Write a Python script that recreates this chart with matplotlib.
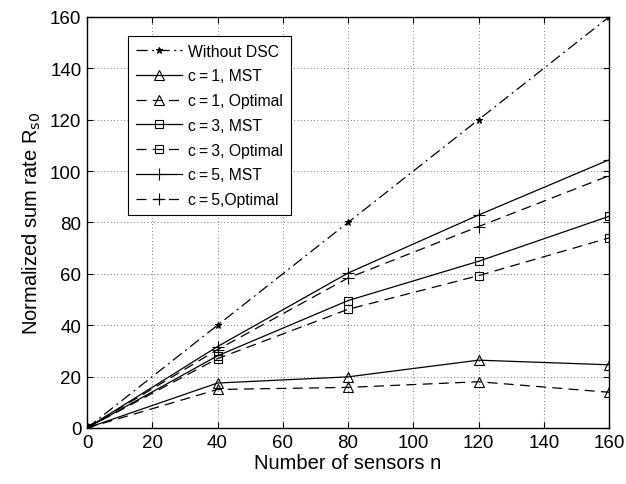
import matplotlib
matplotlib.use("Agg")
import matplotlib.pyplot as plt

plt.rcParams['font.family'] = ['Liberation Sans', 'DejaVu Sans']

n = [0, 40, 80, 120, 160]
without_dsc = [0, 40, 80, 120, 160]
c1_mst = [0, 17.5, 19.9, 26.4, 24.6]
c1_opt = [0, 15.0, 15.8, 18.0, 13.9]
c3_mst = [0, 28.1, 49.6, 64.9, 82.4]
c3_opt = [0, 27.0, 46.2, 59.3, 74.0]
c5_mst = [0, 31.7, 60.3, 82.9, 104.4]
c5_opt = [0, 30.5, 58.4, 78.4, 98.2]

ts = "\u2009"
series = [
    ("Without DSC", without_dsc, (0, (9, 3.5, 1.5, 3.5)), "*"),
    (f"c{ts}={ts}1, MST", c1_mst, "-", "^"),
    (f"c{ts}={ts}1, Optimal", c1_opt, (0, (8, 5)), "^"),
    (f"c{ts}={ts}3, MST", c3_mst, "-", "s"),
    (f"c{ts}={ts}3, Optimal", c3_opt, (0, (8, 5)), "s"),
    (f"c{ts}={ts}5, MST", c5_mst, "-", "+"),
    (f"c{ts}={ts}5,Optimal", c5_opt, (0, (8, 5)), "+"),
]

fig = plt.figure(figsize=(6.26, 4.85), dpi=100)
ax = fig.add_axes([0.139, 0.1155, 0.834, 0.8475])

sizes = {"^": 7, "s": 5.5, "+": 8, "*": 5}
for label, ys, ls, mk in series:
    ax.plot(n, ys, color="black", linestyle=ls, linewidth=0.9, marker=mk,
            markersize=sizes[mk],
            markerfacecolor="none" if mk in ("^", "s") else "black",
            markeredgecolor="black", markeredgewidth=0.8, label=label)

ax.set_xlim(0, 160)
ax.set_ylim(0, 160)
ax.set_xticks(range(0, 161, 20))
ax.set_yticks(range(0, 161, 20))
ax.tick_params(direction="in", labelsize=13.5, length=4, top=True, right=True, pad=4)
ax.grid(True, linestyle=(0, (1, 3)), color="black", linewidth=0.6, alpha=0.7)
for sp in ax.spines.values():
    sp.set_linewidth(1.0)

ax.set_xlabel("Number of sensors n", fontsize=14.5, labelpad=2)
ax.set_ylabel("Normalized sum rate R$_{\\mathrm{s0}}$", fontsize=14.5, labelpad=5)

leg = ax.legend(loc="upper left", bbox_to_anchor=(0.079, 0.954), borderaxespad=0,
                fontsize=11.3, frameon=True, fancybox=False, edgecolor="black",
                framealpha=1, handlelength=2.9, handletextpad=0.4,
                borderpad=0.5, labelspacing=0.62)
leg.get_frame().set_linewidth(0.8)

fig.savefig("out.png", dpi=100)
